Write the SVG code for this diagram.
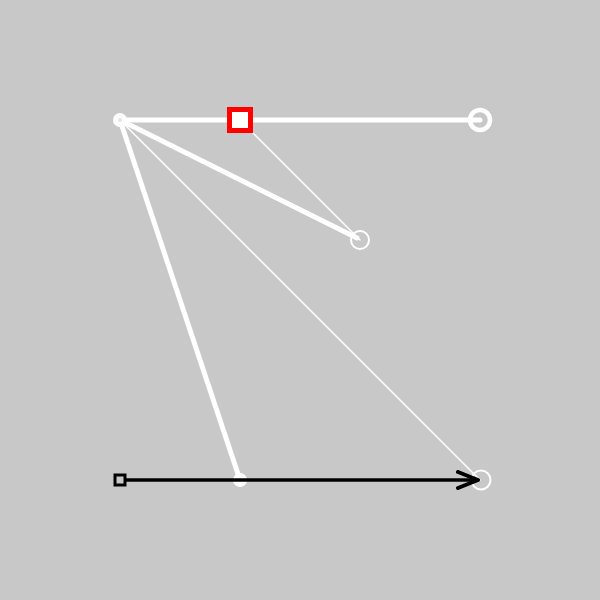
<svg xmlns="http://www.w3.org/2000/svg" width="600" height="600" viewBox="0 0 600 600">
<defs>
<style>
.w{stroke:#fff;fill:none;stroke-linecap:round}
.thick{stroke-width:5}
.thin{stroke-width:1.5}
</style>
<marker id="arr" viewBox="0 0 24 20" refX="22" refY="10" markerWidth="24" markerHeight="20" markerUnits="userSpaceOnUse" orient="auto">
<path d="M2,2 L22,10 L2,18" fill="none" stroke="#000" stroke-width="4" stroke-linecap="round" stroke-linejoin="round"/>
</marker>
</defs>
<rect width="600" height="600" fill="#c8c8c8"/>
<g id="connectors">
<line class="w thick" x1="120" y1="120" x2="480" y2="120"/>
<line class="w thin" x1="240" y1="120" x2="360" y2="240"/>
<line class="w thick" x1="120" y1="120" x2="357" y2="238"/>
<line class="w thick" x1="120" y1="120" x2="240" y2="480"/>
<line class="w thin" x1="120" y1="120" x2="480" y2="480"/>
</g>
<g id="nodeA"><circle cx="120" cy="120" r="4.5" fill="#e4e4e4" stroke="#fff" stroke-width="5"/></g>
<g id="nodeB"><rect x="229.5" y="109.5" width="21" height="21" fill="#fff" stroke="#f00" stroke-width="5"/></g>
<g id="nodeC"><circle cx="480" cy="120" r="10" fill="none" stroke="#fff" stroke-width="4.5"/></g>
<g id="nodeD"><circle cx="360" cy="240" r="9" fill="none" stroke="#fff" stroke-width="2"/></g>
<g id="nodeF"><circle cx="240" cy="480" r="7" fill="#fff"/></g>
<g id="nodeG"><circle cx="481" cy="480" r="9.5" fill="none" stroke="#fff" stroke-width="2"/></g>
<g id="edgeEG"><line x1="126" y1="480" x2="478" y2="480" stroke="#000" stroke-width="3.5" marker-end="url(#arr)"/></g>
<g id="nodeE"><rect x="115" y="475" width="10" height="10" fill="#c8c8c8" stroke="#000" stroke-width="3"/></g>
</svg>
